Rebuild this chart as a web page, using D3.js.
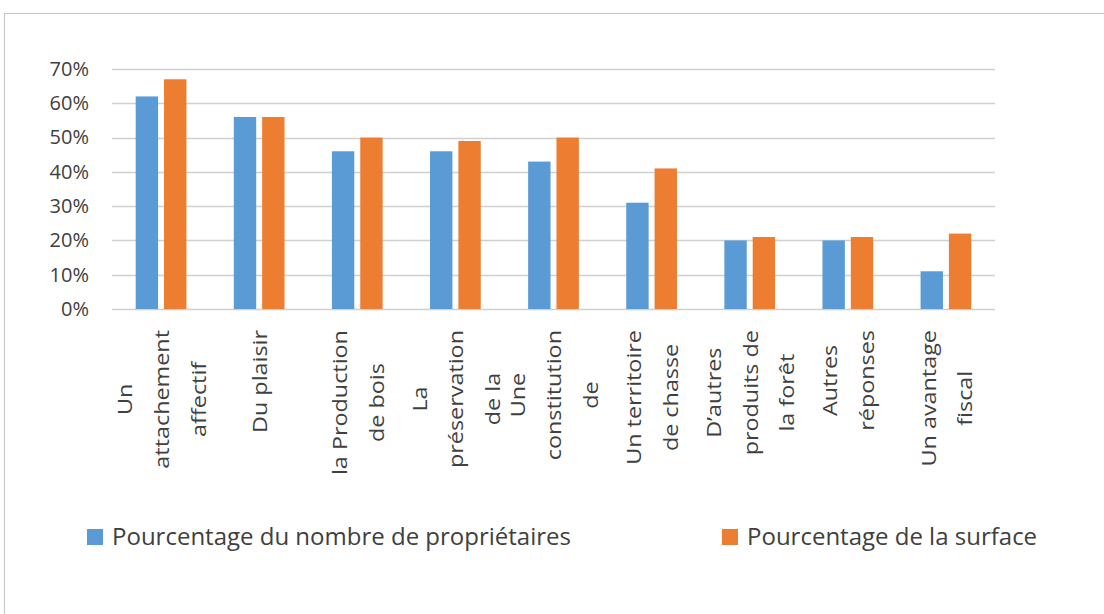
<!DOCTYPE html>
<html>
<head>
<meta charset="UTF-8">
<title>Pourcentage des propriétaires et de la surface</title>
<script src="https://cdn.jsdelivr.net/npm/d3@7"></script>
<style>
  body { margin: 0; background: #fff; }
  text { font-family: "Open Sans", sans-serif; fill: #404040; }
</style>
</head>
<body>
<script>
// categories (each entry = the wrapped lines of the label)
var categories = [
  ["Un", "attachement", "affectif"],
  ["Du plaisir"],
  ["la Production", "de bois"],
  ["La", "préservation", "de la"],
  ["Une", "constitution", "de"],
  ["Un territoire", "de chasse"],
  ["D\u2019autres", "produits de", "la forêt"],
  ["Autres", "réponses"],
  ["Un avantage", "fiscal"]
];
var seriesNames = ["Pourcentage du nombre de propriétaires", "Pourcentage de la surface"];
var proprietaires = [62, 56, 46, 46, 43, 31, 20, 20, 11];
var surface = [67, 56, 50, 49, 50, 41, 21, 21, 22];
var yTicks = [0, 10, 20, 30, 40, 50, 60, 70];
var colors = ["#5B9BD5", "#ED7D31"];

var W = 1104, H = 614;
var plotL = 112, plotR = 995, plotT = 69, plotB = 309;

var svg = d3.select("body").append("svg")
  .attr("width", W)
  .attr("height", H);

// chart border
svg.append("rect")
  .attr("x", 4.5).attr("y", 13.5)
  .attr("width", 1120).attr("height", 640)
  .attr("fill", "none")
  .attr("stroke", "#c9c9c9")
  .attr("stroke-width", 1.2);

var idx = d3.range(categories.length);
var x0 = d3.scaleBand().domain(idx).range([plotL, plotR]).paddingInner(0.483).paddingOuter(0.2415);
var x1 = d3.scaleBand().domain([0, 1]).range([0, x0.bandwidth()]).paddingInner(0.21);
var y = d3.scaleLinear().domain([0, 70]).range([plotB, plotT]);

// gridlines
svg.append("g").selectAll("line")
  .data(yTicks)
  .enter()
  .append("line")
  .attr("x1", plotL).attr("x2", plotR)
  .attr("y1", function(d){ return Math.round(y(d)) + 0.5; })
  .attr("y2", function(d){ return Math.round(y(d)) + 0.5; })
  .attr("stroke", "#d0d0d0")
  .attr("stroke-width", 1.3);

// y labels
var yAxis = d3.axisLeft(y).tickValues(yTicks).tickSize(0).tickPadding(0)
  .tickFormat(function(d){ return d + "%"; });
svg.append("g")
  .attr("transform", "translate(89,0)")
  .call(yAxis)
  .call(function(g){ g.select(".domain").remove(); })
  .selectAll("text")
  .attr("font-size", "20px")
  .attr("font-family", "Open Sans, sans-serif")
  .attr("fill", "#404040");

// bars
var rows = idx.map(function(i){ return [proprietaires[i], surface[i]]; });
var groups = svg.append("g").selectAll("g")
  .data(rows)
  .enter()
  .append("g")
  .attr("transform", function(d, i){ return "translate(" + x0(i) + ",0)"; });

groups.selectAll("rect")
  .data(function(d){ return d; })
  .enter()
  .append("rect")
  .attr("x", function(d, j){ return x1(j); })
  .attr("y", function(d){ return y(d); })
  .attr("width", x1.bandwidth())
  .attr("height", function(d){ return y(0) - y(d); })
  .attr("fill", function(d, j){ return colors[j]; });

// category labels, rotated, block top-aligned at y=330
// (text looks a bit stretched along its length in the reference)
var lineGap = 36.6;
var labelTop = 330;
var stretch = 1.14;
categories.forEach(function(lines, i){
  var cx = x0(i) + x0.bandwidth() / 2;
  var g = svg.append("g");
  var texts = lines.map(function(line, k){
    var off = (k - (lines.length - 1) / 2) * lineGap;
    return g.append("text")
      .attr("font-size", "20.5px")
      .attr("text-anchor", "middle")
      .attr("dominant-baseline", "central")
      .attr("data-x", cx + off)
      .text(line);
  });
  var maxW = stretch * d3.max(texts, function(t){ return t.node().getComputedTextLength(); });
  texts.forEach(function(t){
    t.attr("transform", "translate(" + t.attr("data-x") + "," + (labelTop + maxW / 2) + ") rotate(-90) scale(" + stretch + ",1)");
  });
});

// legend
var legendX = [87, 722];
var legend = svg.append("g").selectAll("g")
  .data(seriesNames)
  .enter()
  .append("g")
  .attr("transform", function(d, i){ return "translate(" + legendX[i] + ",529)"; });

legend.append("rect")
  .attr("width", 16).attr("height", 16)
  .attr("fill", function(d, i){ return colors[i]; });

legend.append("text")
  .attr("x", 25).attr("y", 16)
  .attr("font-size", "24px")
  .text(function(d){ return d; });
</script>
</body>
</html>
